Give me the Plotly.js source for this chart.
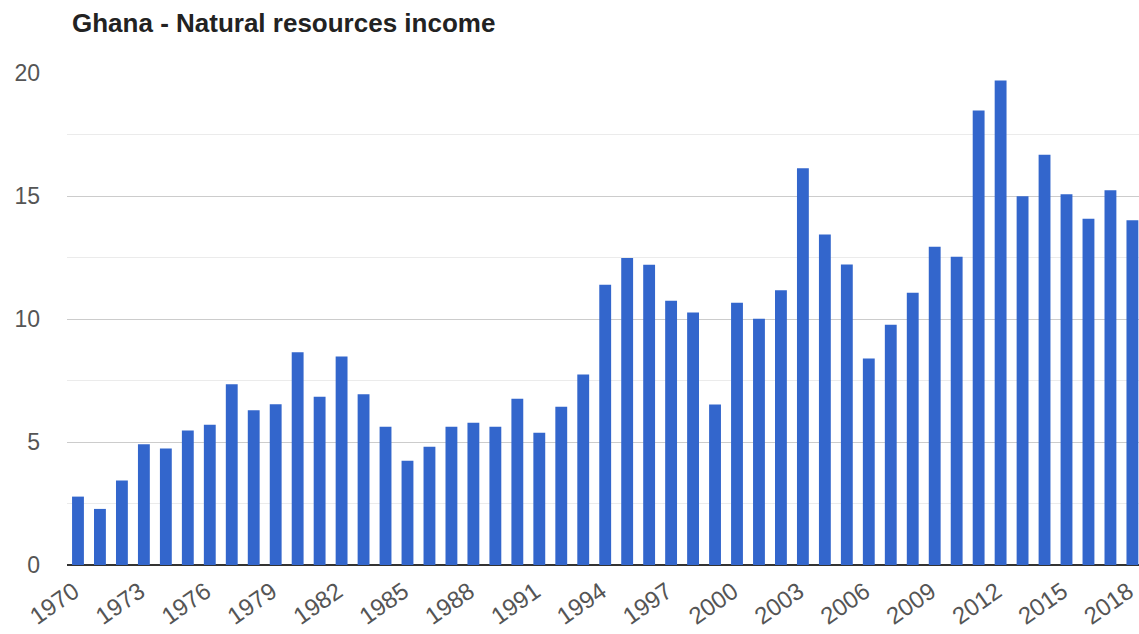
<!DOCTYPE html>
<html>
<head>
<meta charset="utf-8">
<script src="https://cdn.plot.ly/plotly-3.0.1.min.js"></script>
<style>html,body{margin:0;padding:0;background:#fff;overflow:hidden;}</style>
</head>
<body>
<div id="chart" style="width:1139px;height:634px;"></div>
<script>
const years = [1970,1971,1972,1973,1974,1975,1976,1977,1978,1979,
  1980,1981,1982,1983,1984,1985,1986,1987,1988,1989,
  1990,1991,1992,1993,1994,1995,1996,1997,1998,1999,
  2000,2001,2002,2003,2004,2005,2006,2007,2008,2009,
  2010,2011,2012,2013,2014,2015,2016,2017,2018];
const income = [2.78,2.28,3.43,4.91,4.74,5.47,5.70,7.35,6.29,6.53,
  8.65,6.84,8.48,6.94,5.62,4.24,4.81,5.62,5.78,5.62,
  6.76,5.38,6.43,7.74,11.39,12.48,12.21,10.74,10.26,6.52,
  10.66,10.01,11.17,16.13,13.44,12.22,8.39,9.77,11.07,12.94,
  12.53,18.48,19.70,14.99,16.68,15.07,14.08,15.23,14.01];
const xTicks = [1970,1973,1976,1979,1982,1985,1988,1991,1994,1997,2000,2003,2006,2009,2012,2015,2018];
const yTicks = [0,5,10,15,20];
const chartTitle = 'Ghana - Natural resources income';

const trace = {
  type: 'bar',
  x: years,
  y: income,
  marker: {color: '#3366cc'},
  hoverinfo: 'x+y'
};

const layout = {
  width: 1139,
  height: 634,
  margin: {l: 67, r: 0, t: 73, b: 69, pad: 0},
  paper_bgcolor: '#ffffff',
  plot_bgcolor: '#ffffff',
  showlegend: false,
  bargap: 0.46,
  font: {family: '"Liberation Sans", Arial, sans-serif', color: '#555555', size: 23},
  title: {
    text: '<b>' + chartTitle + '</b>',
    font: {family: '"Liberation Sans", Arial, sans-serif', size: 26, color: '#222222'},
    xref: 'container', yref: 'container',
    x: 72/1139, xanchor: 'left',
    y: 1 - 22.6/634, yanchor: 'middle'
  },
  xaxis: {
    type: 'linear',
    range: [1969.5, 2018.3],
    tickmode: 'array',
    tickvals: xTicks,
    ticktext: xTicks.map(String),
    tickangle: -35,
    showgrid: false,
    zeroline: false,
    showline: false,
    ticks: '',
    ticklabelstandoff: 7,
    ticklabelshift: -4,
    ticklabeloverflow: 'allow',
    tickfont: {size: 24, color: '#555555'},
    fixedrange: true
  },
  yaxis: {
    range: [0, 20],
    tickmode: 'array',
    tickvals: yTicks,
    ticktext: yTicks.map(String),
    showgrid: true,
    gridcolor: '#cccccc',
    gridwidth: 1,
    minor: {tickmode: 'array', tickvals: [2.5, 7.5, 12.5, 17.5], showgrid: true, gridcolor: '#ebebeb', gridwidth: 1, ticks: ''},
    zeroline: true,
    zerolinecolor: '#333333',
    zerolinewidth: 2,
    showline: false,
    ticks: '',
    ticklabelstandoff: 26,
    tickfont: {size: 23, color: '#555555'},
    fixedrange: true
  }
};

Plotly.newPlot('chart', [trace], layout, {displayModeBar: false, staticPlot: true});
</script>
</body>
</html>
